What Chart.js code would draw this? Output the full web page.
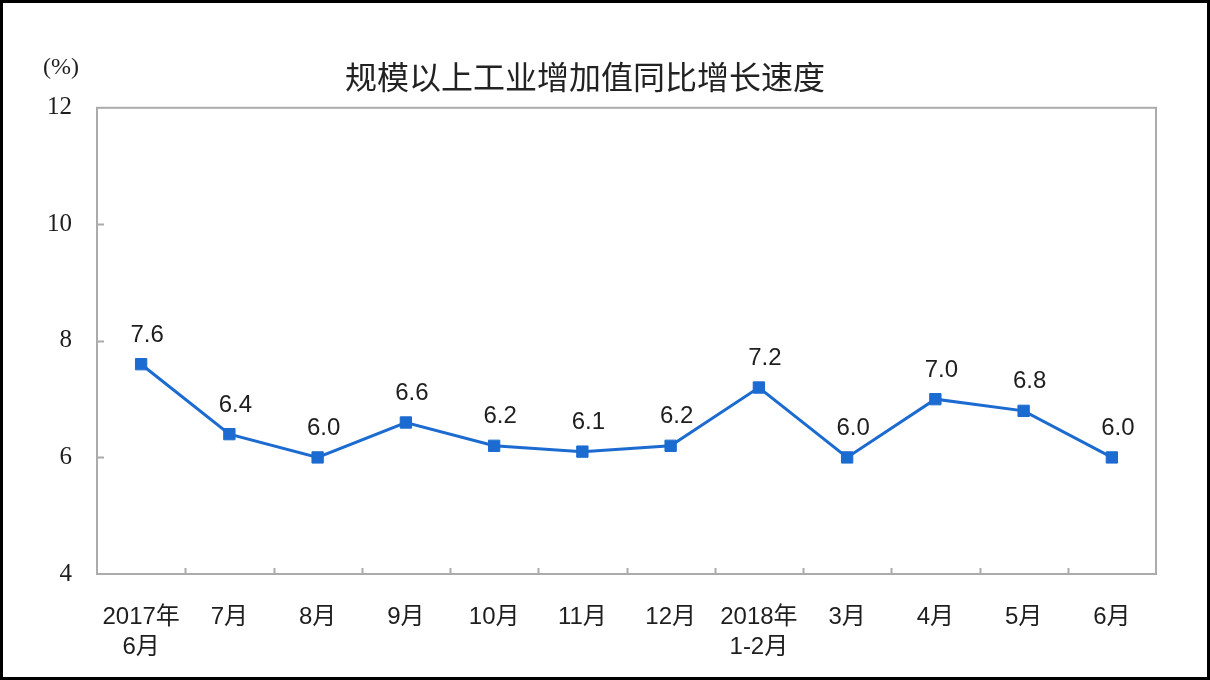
<!DOCTYPE html>
<html>
<head>
<meta charset="utf-8">
<script src="https://cdn.jsdelivr.net/npm/chart.js@4"></script>
<style>
  html, body { margin: 0; padding: 0; background: #fff; }
  canvas { display: block; }
</style>
</head>
<body>
<canvas id="chart" width="1210" height="680"></canvas>
<script>
const chartTitle = '规模以上工业增加值同比增长速度';
const unitLabel = '(%)';
const months = [
  ['2017年', '6月'], '7月', '8月', '9月', '10月', '11月', '12月',
  ['2018年', '1-2月'], '3月', '4月', '5月', '6月'
];
const growth = [7.6, 6.4, 6.0, 6.6, 6.2, 6.1, 6.2, 7.2, 6.0, 7.0, 6.8, 6.0];
const yTicks = [4, 6, 8, 10, 12];

const lineBlue = '#1c6bd0';
const axisGray = '#ababab';
const textDark = '#1e1e1e';

// box round the plot, inward ticks, unit label, value labels, outer frame
const decorations = {
  id: 'decorations',
  afterDatasetsDraw(chart) {
    const ctx = chart.ctx;
    const area = chart.chartArea;
    const x = chart.scales.x;
    const y = chart.scales.y;
    ctx.save();

    ctx.strokeStyle = axisGray;
    ctx.lineWidth = 2;
    ctx.strokeRect(area.left, area.top, area.right - area.left, area.bottom - area.top);

    ctx.beginPath();
    for (let i = 1; i < months.length; i++) {
      const px = Math.round((x.getPixelForValue(i - 1) + x.getPixelForValue(i)) / 2) + 0.5;
      ctx.moveTo(px, area.bottom);
      ctx.lineTo(px, area.bottom - 6);
    }
    yTicks.slice(1, -1).forEach(v => {
      const py = Math.round(y.getPixelForValue(v)) + 0.5;
      ctx.moveTo(area.left, py);
      ctx.lineTo(area.left + 7, py);
    });
    ctx.stroke();

    ctx.fillStyle = textDark;
    ctx.font = '24px "Liberation Serif", serif';
    ctx.textAlign = 'center';
    ctx.textBaseline = 'middle';
    ctx.fillText(unitLabel, area.left - 36, area.top - 40);

    ctx.font = '24px "Liberation Sans", Arial, sans-serif';
    const meta = chart.getDatasetMeta(0);
    meta.data.forEach((pt, i) => {
      ctx.fillText(growth[i].toFixed(1), pt.x + 6, pt.y - 29);
    });

    ctx.strokeStyle = '#000';
    ctx.lineWidth = 3;
    ctx.strokeRect(1.5, 1.5, chart.width - 3, chart.height - 3);
    ctx.restore();
  }
};

new Chart(document.getElementById('chart'), {
  type: 'line',
  data: {
    labels: months,
    datasets: [{
      data: growth,
      borderColor: lineBlue,
      backgroundColor: lineBlue,
      borderWidth: 3,
      tension: 0,
      pointStyle: 'rect',
      pointRadius: 8,
      pointBorderWidth: 1,
      pointBorderColor: lineBlue,
      pointBackgroundColor: lineBlue
    }]
  },
  options: {
    responsive: false,
    animation: false,
    devicePixelRatio: 1,
    layout: {
      padding: { left: 14, right: 54, top: 0, bottom: 0 }
    },
    scales: {
      x: {
        offset: true,
        grid: { display: false },
        border: { display: false },
        afterFit: scale => { scale.height = 106; },
        ticks: {
          autoSkip: false,
          maxRotation: 0,
          padding: 20,
          color: textDark,
          font: { family: '"Liberation Sans", "Noto Sans CJK SC", sans-serif', size: 24, lineHeight: 1.25 }
        }
      },
      y: {
        min: 4,
        max: 12,
        grid: { display: false },
        border: { display: false },
        afterFit: scale => { scale.width = 83; },
        afterBuildTicks: scale => { scale.ticks = yTicks.map(v => ({ value: v })); },
        ticks: {
          padding: 17,
          color: textDark,
          font: { family: '"Liberation Serif", serif', size: 25 }
        }
      }
    },
    plugins: {
      legend: { display: false },
      tooltip: { enabled: false },
      title: {
        display: true,
        text: chartTitle,
        color: '#222',
        padding: { top: 58, bottom: 13 },
        font: { family: '"Noto Sans CJK SC", sans-serif', size: 32, weight: 'normal', lineHeight: 1.15 }
      }
    }
  },
  plugins: [decorations]
});
</script>
</body>
</html>
